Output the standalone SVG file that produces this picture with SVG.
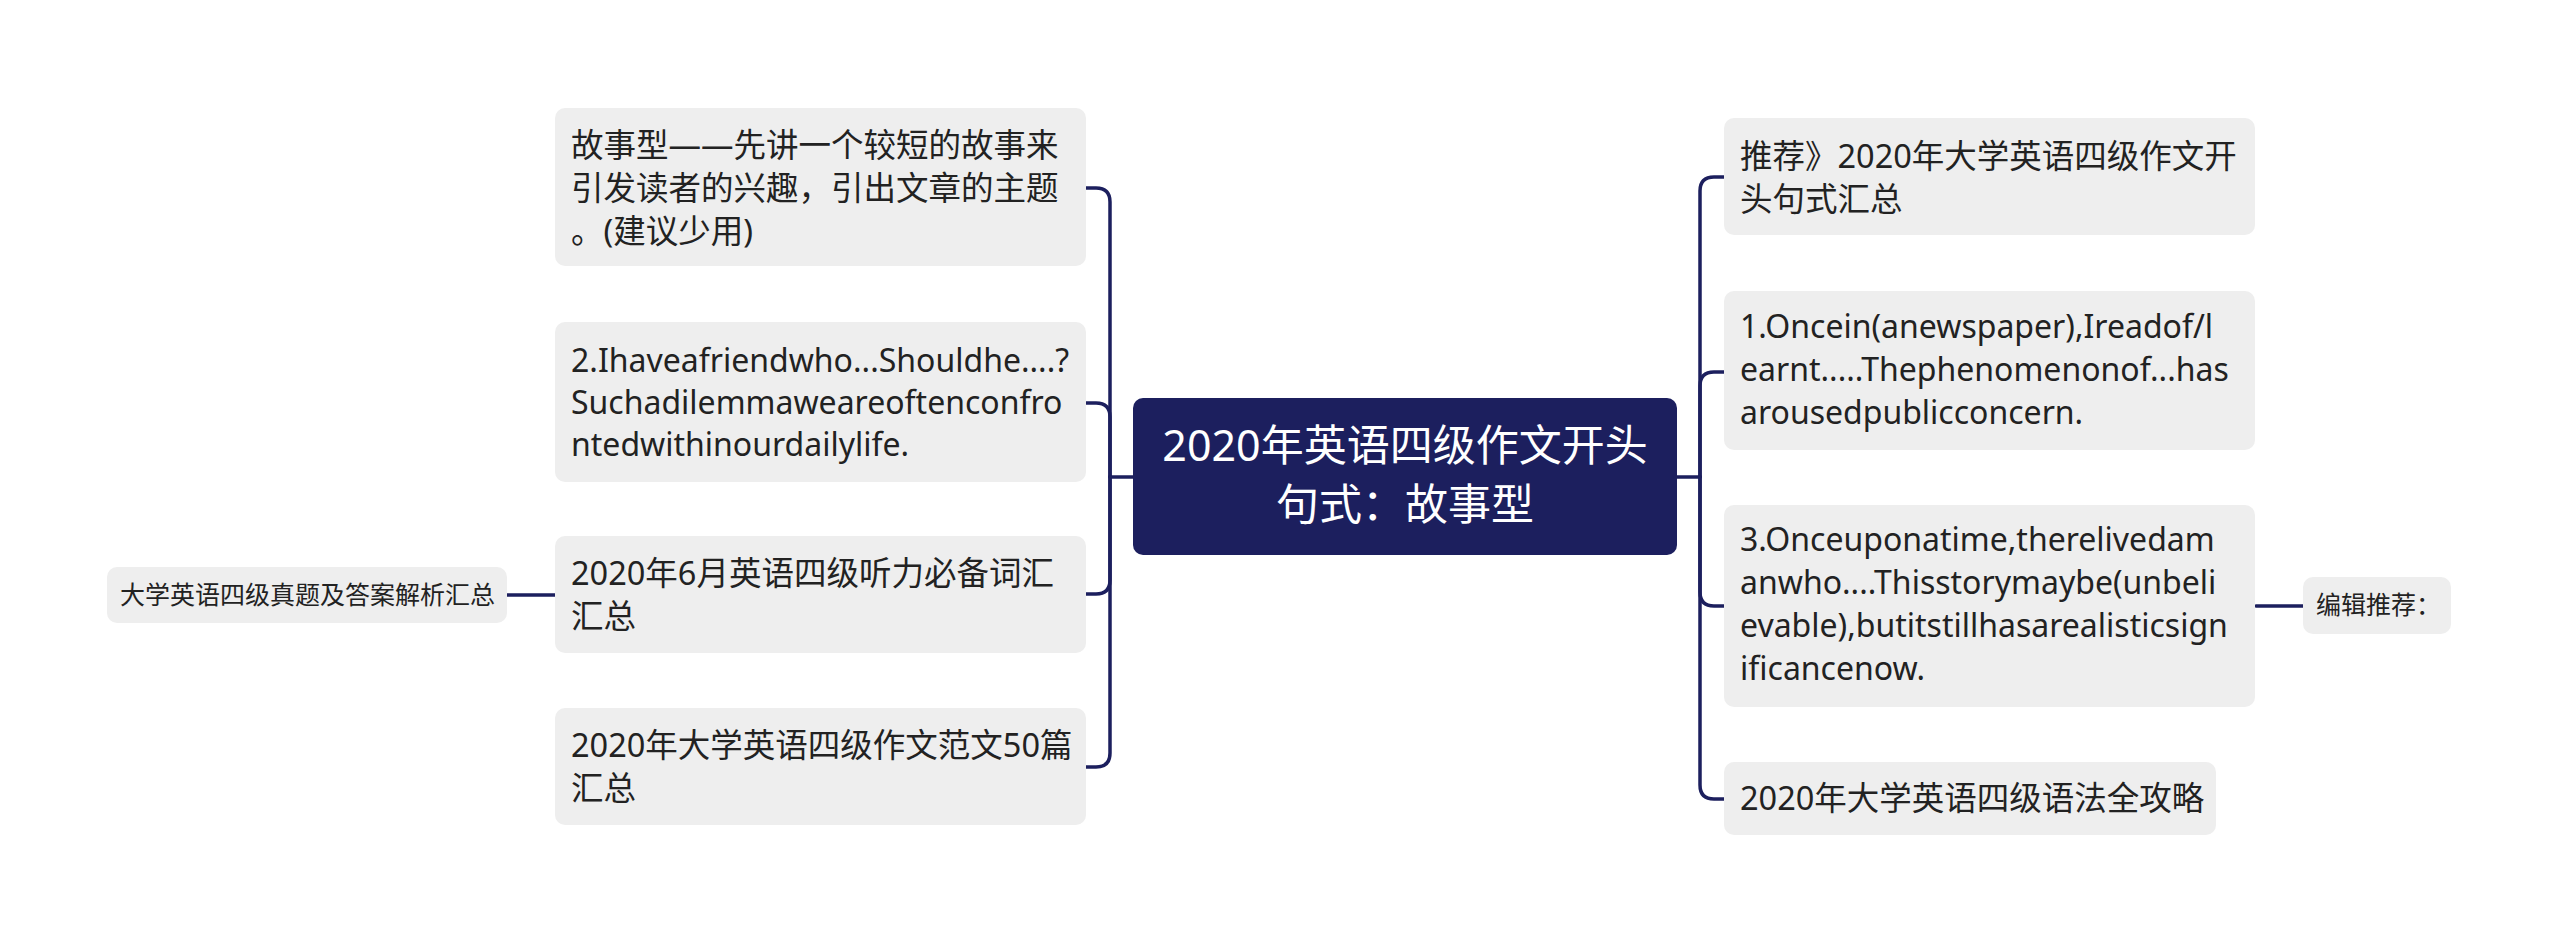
<svg xmlns="http://www.w3.org/2000/svg" width="2560" height="944" viewBox="0 0 2560 944">
<style>
.box{fill:#eeeeee}
.t{font-family:"Noto Sans","Noto Sans CJK SC",sans-serif;font-size:32px;fill:#222222}
.k{font-size:32.5px}
.s{font-family:"Noto Sans","Noto Sans CJK SC",sans-serif;font-size:25px;fill:#222222}
.c{font-family:"Noto Sans","Noto Sans CJK SC",sans-serif;font-size:43px;fill:#ffffff;text-anchor:middle}
.ln{fill:none;stroke:#1c1f5e;stroke-width:3.5;stroke-linecap:round}
</style>
<rect width="2560" height="944" fill="#ffffff"/>
<g id="connectors">
<path class="ln" d="M1133 477 H1110"/>
<path class="ln" d="M1110 477 V202 Q1110 188 1096 188 H1086"/>
<path class="ln" d="M1110 477 V417 Q1110 403 1096 403 H1086"/>
<path class="ln" d="M1110 477 V580 Q1110 594 1096 594 H1086"/>
<path class="ln" d="M1110 477 V753 Q1110 767 1096 767 H1086"/>
<path class="ln" d="M555 595 H507"/>
<path class="ln" d="M1677 477 H1700"/>
<path class="ln" d="M1700 477 V191 Q1700 177 1714 177 H1724"/>
<path class="ln" d="M1700 477 V386 Q1700 372 1714 372 H1724"/>
<path class="ln" d="M1700 477 V592 Q1700 606 1714 606 H1724"/>
<path class="ln" d="M1700 477 V785 Q1700 799 1714 799 H1724"/>
<path class="ln" d="M2256 606 H2303"/>
</g>
<g id="center">
<rect x="1133" y="398" width="544" height="157" rx="10" fill="#1c1f5e"/>
<text class="c" x="1405" y="461">2020年英语四级作文开头</text>
<text class="c" x="1405" y="520">句式：故事型</text>
</g>
<g id="L1">
<rect class="box" x="555" y="108" width="531" height="158" rx="10"/>
<text class="t k" x="571" y="157">故事型——先讲一个较短的故事来</text>
<text class="t k" x="571" y="200">引发读者的兴趣，引出文章的主题</text>
<text class="t k" x="571" y="243">。(建议少用)</text>
</g>
<g id="L2">
<rect class="box" x="555" y="322" width="531" height="160" rx="10"/>
<text class="t" x="571" y="372">2.Ihaveafriendwho...Shouldhe....?</text>
<text class="t" x="571" y="414">Suchadilemmaweareoftenconfro</text>
<text class="t" x="571" y="456">ntedwithinourdailylife.</text>
</g>
<g id="L3">
<rect class="box" x="555" y="536" width="531" height="117" rx="10"/>
<text class="t k" x="571" y="585">2020年6月英语四级听力必备词汇</text>
<text class="t k" x="571" y="628">汇总</text>
</g>
<g id="L3a">
<rect class="box" x="107" y="567" width="400" height="56" rx="10"/>
<text class="s" x="120" y="604">大学英语四级真题及答案解析汇总</text>
</g>
<g id="L4">
<rect class="box" x="555" y="708" width="531" height="117" rx="10"/>
<text class="t k" x="571" y="757">2020年大学英语四级作文范文50篇</text>
<text class="t k" x="571" y="800">汇总</text>
</g>
<g id="R1">
<rect class="box" x="1724" y="118" width="531" height="117" rx="10"/>
<text class="t k" x="1740" y="168">推荐》2020年大学英语四级作文开</text>
<text class="t k" x="1740" y="211">头句式汇总</text>
</g>
<g id="R2">
<rect class="box" x="1724" y="291" width="531" height="159" rx="10"/>
<text class="t" x="1740" y="338">1.Oncein(anewspaper),Ireadof/l</text>
<text class="t" x="1740" y="381">earnt.....Thephenomenonof...has</text>
<text class="t" x="1740" y="424">arousedpublicconcern.</text>
</g>
<g id="R3">
<rect class="box" x="1724" y="505" width="531" height="202" rx="10"/>
<text class="t" x="1740" y="551">3.Onceuponatime,therelivedam</text>
<text class="t" x="1740" y="594">anwho....Thisstorymaybe(unbeli</text>
<text class="t" x="1740" y="637">evable),butitstillhasarealisticsign</text>
<text class="t" x="1740" y="680">ificancenow.</text>
</g>
<g id="R3a">
<rect class="box" x="2303" y="577" width="148" height="57" rx="10"/>
<text class="s" x="2316" y="614">编辑推荐：</text>
</g>
<g id="R4">
<rect class="box" x="1724" y="762" width="492" height="73" rx="10"/>
<text class="t k" x="1740" y="810">2020年大学英语四级语法全攻略</text>
</g>
</svg>
